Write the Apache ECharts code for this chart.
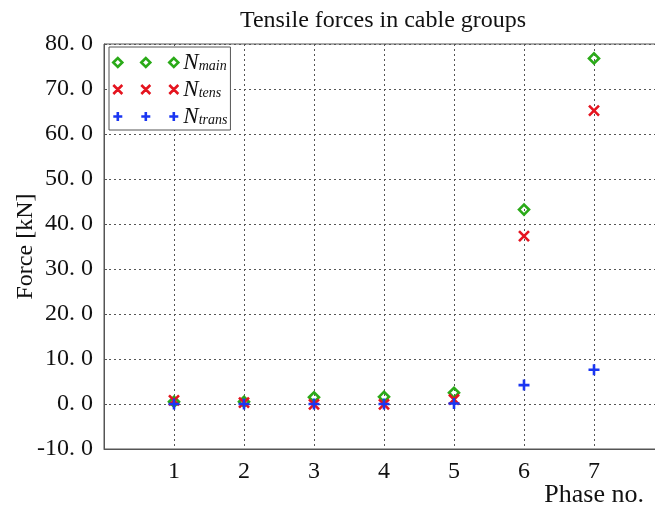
<!DOCTYPE html>
<html>
<head>
<meta charset="utf-8">
<script src="https://cdn.jsdelivr.net/npm/echarts@6/dist/echarts.min.js"></script>
<style>
html,body{margin:0;padding:0;background:#fff;}
#chart{width:655px;height:507px;}
</style>
</head>
<body>
<div id="chart"></div>
<script>
// Data
const phases = [1, 2, 3, 4, 5, 6, 7];
const nMain  = [0.5, 0.5, 1.5, 1.6, 2.5, 43.2, 76.8];
const nTens  = [0.8, 0.3, -0.1, -0.1, 1.0, 37.3, 65.2];
const nTrans = [0.0, 0.0, 0.0, 0.0, 0.1, 4.2, 7.6];
const seriesNames = ['N_main', 'N_tens', 'N_trans'];
const seriesSubs = ['main', 'tens', 'trans'];
const yTicksMin = -10, yTicksMax = 80, yStep = 10;

const green = '#2aaa18', red = '#e5141f', blue = '#1a36f2';
const FONT = 'Liberation Serif';

const symDiamond = 'path://M0,5L5,0L10,5L5,10Z';
const symCross = 'path://M0,0L10,10M10,0L0,10';
const symPlus = 'path://M5,0L5,10M0,5L10,5';

const legDiamond = 'path://M0,4.5L4.5,0L9,4.5L4.5,9Z M28,4.5L32.5,0L37,4.5L32.5,9Z M56,4.5L60.5,0L65,4.5L60.5,9Z';
const legCross = 'path://M0,0L9,9M9,0L0,9 M28,0L37,9M37,0L28,9 M56,0L65,9M65,0L56,9';
const legPlus = 'path://M4.5,0L4.5,9M0,4.5L9,4.5 M32.5,0L32.5,9M28,4.5L37,4.5 M60.5,0L60.5,9M56,4.5L65,4.5';

function pairs(vals){ return phases.map((p,i)=>[p, vals[i]]); }

const chart = echarts.init(document.getElementById('chart'), null, {renderer:'canvas'});

const mk = (name, data, sym, size, col) => ({
  name, type:'scatter', data: pairs(data), symbol: sym, symbolSize: size,
  itemStyle:{color:'transparent', borderColor: col, borderWidth: 2.6, opacity:1},
  emphasis:{disabled:true}, z: 5
});

const legItem = (name, icon, col) => ({
  name, icon, itemStyle:{color:'transparent', borderColor: col, borderWidth: 2.6, opacity:1}
});

chart.setOption({
  animation:false,
  backgroundColor:'#fff',
  title:[{
    text:'Tensile forces in cable groups', left: 378, top: 4, textAlign:'center',
    textStyle:{fontFamily:FONT, fontSize:24, fontWeight:'normal', color:'#111'}
  },{
    text:'Phase no.', right: 6, top: 477,
    textStyle:{fontFamily:FONT, fontSize:26, fontWeight:'normal', color:'#111'}
  }],
  grid:{left:104, top:44, width:560, height:405, show:true, borderColor:'#555', borderWidth:1,
        containLabel:false, outerBoundsMode:'none'},
  legend:{
    left:109, top:47, orient:'vertical', itemWidth:65, itemHeight:9, itemGap:4,
    backgroundColor:'#fff', borderColor:'#555', borderWidth:1, padding:[4,3,2,3],
    data:[legItem(seriesNames[0], legDiamond, green), legItem(seriesNames[1], legCross, red), legItem(seriesNames[2], legPlus, blue)],
    formatter: function(name){ const i = seriesNames.indexOf(name); return '{n|N}{s|' + seriesSubs[i] + '}'; },
    textStyle:{
      rich:{
        n:{fontFamily:FONT, fontStyle:'italic', fontSize:23, lineHeight:21, color:'#111'},
        s:{fontFamily:FONT, fontStyle:'italic', fontSize:14, lineHeight:7, verticalAlign:'bottom', color:'#111'}
      }
    }
  },
  xAxis:{
    type:'value', min:0, max:8, interval:1,
    axisLine:{show:true, onZero:false, lineStyle:{color:'#555'}},
    axisTick:{show:false},
    axisLabel:{fontFamily:FONT, fontSize:24, color:'#111', margin:11,
      formatter: v => (v>=1 && v<=7) ? String(v) : ''},
    splitLine:{show:true, lineStyle:{color:'#555', type:[2,3], width:1}}
  },
  yAxis:{
    type:'value', min:yTicksMin, max:yTicksMax, interval:yStep,
    name:'Force [kN]', nameLocation:'middle', nameGap:66, nameRotate:90, nameMoveOverlap:false,
    nameTextStyle:{fontFamily:FONT, fontSize:24, color:'#111'},
    axisLine:{show:true, lineStyle:{color:'#555'}},
    axisTick:{show:true, inside:true, length:3, lineStyle:{color:'#555'}},
    axisLabel:{fontFamily:FONT, fontSize:24, color:'#111', margin:11,
      formatter: v => v.toFixed(1).replace('.', '. ')},
    splitLine:{show:true, lineStyle:{color:'#555', type:[2,3], width:1}}
  },
  series:[
    mk(seriesNames[0], nMain, symDiamond, 10, green),
    mk(seriesNames[1], nTens, symCross, 10, red),
    mk(seriesNames[2], nTrans, symPlus, 11, blue)
  ]
});
</script>
</body>
</html>
